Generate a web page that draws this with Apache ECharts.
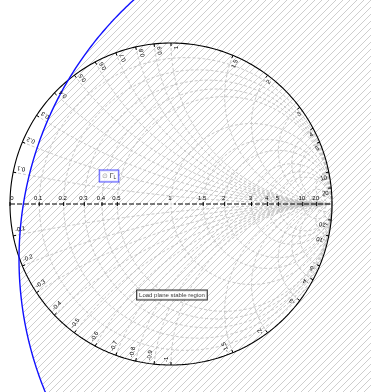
<!DOCTYPE html>
<html>
<head>
<meta charset="utf-8">
<script src="https://cdn.jsdelivr.net/npm/echarts@6/dist/echarts.min.js"></script>
<style>
  html, body { margin: 0; padding: 0; background: #ffffff; }
  #chart { width: 371px; height: 392px; }
</style>
</head>
<body>
<div id="chart"></div>
<script>
// Smith chart grid values (normalized impedance)
const resistanceGrid = [0.1, 0.2, 0.3, 0.4, 0.5, 1, 1.5, 2, 3, 4, 5, 10, 20];
const reactanceGrid = [0.1, 0.2, 0.3, 0.4, 0.5, 0.6, 0.7, 0.8, 0.9, 1, 1.5, 2, 3, 4, 5, 10, 20];
const realAxisTicks = [0, 0.1, 0.2, 0.3, 0.4, 0.5, 1, 1.5, 2, 3, 4, 5, 10, 20];

// Load stability circle in the reflection-coefficient plane
const stabilityCenter = [1.23, -0.342];
const stabilityRadius = 2.174;

// Load reflection coefficient point
const gammaL = [-0.385, 0.174];

// Annotation for the stable region
const stableNotePos = [0.006, -0.565];
const stableNoteText = 'Load plane stable region';

// Page layout: unit circle centre and radius in pixels
const W = 371, H = 392, CX = 171, CY = 204, RPX = 161;

function gammaOf(r, x) {
  const d = (r + 1) * (r + 1) + x * x;
  return [(r * r + x * x - 1) / d, (2 * x) / d];
}

function resistanceCircle(r) {
  const c = r / (1 + r), rad = 1 / (1 + r), pts = [];
  for (let i = 0; i <= 240; i++) {
    const a = (i / 240) * 2 * Math.PI;
    pts.push([c + rad * Math.cos(a), rad * Math.sin(a)]);
  }
  return pts;
}

function reactanceArc(x) {
  const pts = [];
  for (let i = 0; i <= 200; i++) {
    const s = (i / 200) * 0.998;
    const r = s / (1 - s);
    pts.push(gammaOf(r, x));
  }
  pts.push([1, 0]);
  return pts;
}

function circlePoints(c, rad, n) {
  const pts = [];
  for (let i = 0; i <= n; i++) {
    const a = (i / n) * 2 * Math.PI;
    pts.push([c[0] + rad * Math.cos(a), c[1] + rad * Math.sin(a)]);
  }
  return pts;
}

// Diagonal hatch tile
const TILE = 7;
const tile = document.createElement('canvas');
tile.width = TILE; tile.height = TILE;
(function () {
  const g = tile.getContext('2d');
  g.strokeStyle = '#c2c2c2';
  g.lineWidth = 0.8;
  g.beginPath();
  g.moveTo(-1, TILE + 1); g.lineTo(TILE + 1, -1);
  g.moveTo(-1, 1); g.lineTo(1, -1);
  g.moveTo(TILE - 1, TILE + 1); g.lineTo(TILE + 1, TILE - 1);
  g.stroke();
})();

const gridStyle = { color: '#bababa', width: 0.8, type: [3, 2] };
const series = [];

// Hatched region inside the stability circle
series.push({
  type: 'custom',
  silent: true,
  data: [0],
  renderItem: function (params, api) {
    const pts = circlePoints(stabilityCenter, stabilityRadius, 360).map(p => api.coord(p));
    return { type: 'polygon', shape: { points: pts }, style: { fill: { image: tile, repeat: 'repeat' }, stroke: null } };
  },
  z: 1
});

resistanceGrid.forEach(r => series.push({
  type: 'line', data: resistanceCircle(r), showSymbol: false, silent: true,
  lineStyle: gridStyle, z: 2
}));
reactanceGrid.forEach(x => {
  [x, -x].forEach(v => series.push({
    type: 'line', data: reactanceArc(v), showSymbol: false, silent: true,
    lineStyle: gridStyle, z: 2
  }));
});

// Outer boundary |Γ| = 1
series.push({
  type: 'line', data: circlePoints([0, 0], 1, 360), showSymbol: false, silent: true,
  lineStyle: { color: '#000000', width: 1.1 }, z: 4
});

// Real axis
series.push({
  type: 'line', data: [[-1, 0], [1, 0]], showSymbol: false, silent: true,
  lineStyle: { color: '#000000', width: 1, type: [5, 2] }, z: 4
});

// Real axis ticks and labels
series.push({
  type: 'custom', silent: true, z: 6,
  data: realAxisTicks.map(r => [r]),
  renderItem: function (params, api) {
    const r = api.value(0);
    const g = (r - 1) / (r + 1);
    const p = api.coord([g, 0]);
    return {
      type: 'group',
      children: [
        { type: 'line', shape: { x1: p[0], y1: p[1] - 2, x2: p[0], y2: p[1] + 2 }, style: { stroke: '#000', lineWidth: 1 } },
        { type: 'text', x: p[0] + (r === 0 ? 2 : -1), y: p[1] - 3,
          style: { text: String(r), align: 'center', verticalAlign: 'bottom', font: '6px "Liberation Sans", Arial, sans-serif', fill: '#000' } }
      ]
    };
  }
});

// Reactance ticks and labels around the boundary
const boundaryValues = reactanceGrid.concat(reactanceGrid.map(v => -v));
series.push({
  type: 'custom', silent: true, z: 6,
  data: boundaryValues.map(v => [v]),
  renderItem: function (params, api) {
    const x = api.value(0);
    const phi = Math.atan2(2 * x, x * x - 1);
    const p = api.coord([Math.cos(phi), Math.sin(phi)]);
    const ux = Math.cos(phi), uy = -Math.sin(phi);      // outward, screen
    const tx = Math.sin(phi), ty = Math.cos(phi);       // clockwise tangent, screen
    const ax = p[0] - 3 * ux + 5 * tx, ay = p[1] - 3 * uy + 5 * ty;
    const upper = phi > 0;
    return {
      type: 'group',
      children: [
        { type: 'line', shape: { x1: p[0], y1: p[1], x2: p[0] - 3 * ux, y2: p[1] - 3 * uy }, style: { stroke: '#000', lineWidth: 1 } },
        { type: 'text', x: ax, y: ay, rotation: upper ? phi : phi + Math.PI,
          style: { text: (x < 0 ? '-' : '') + String(Math.abs(x)), align: upper ? 'right' : 'left', verticalAlign: 'middle',
                   font: '6px "Liberation Sans", Arial, sans-serif', fill: '#000' } }
      ]
    };
  }
});

// Centre point (matched load)
series.push({
  type: 'scatter', data: [[0, 0]], symbol: 'emptyCircle', symbolSize: 4, silent: true,
  itemStyle: { color: '#ffffff', borderColor: '#000', borderWidth: 1 }, z: 7
});

// Stability circle
series.push({
  type: 'line', data: circlePoints(stabilityCenter, stabilityRadius, 720), showSymbol: false, silent: true,
  lineStyle: { color: '#1010ff', width: 1.4 }, z: 5
});

// Load reflection coefficient marker
series.push({
  type: 'scatter', data: [gammaL], symbol: 'circle', symbolSize: 1, silent: true, z: 8,
  itemStyle: { color: 'rgba(0,0,0,0)' },
  label: {
    show: true, position: 'inside',
    formatter: '{m|⊙} Γ{s|L}',
    backgroundColor: '#ffffff', borderColor: '#2a2aff', borderWidth: 1, padding: [2, 2, 1, 2],
    color: '#000', fontSize: 7, fontFamily: '"Liberation Sans", Arial, sans-serif',
    rich: {
      m: { color: '#888888', fontSize: 7 },
      s: { fontSize: 5, padding: [3, 0, 0, 0] }
    }
  }
});

// Stable region note
series.push({
  type: 'scatter', data: [stableNotePos], symbol: 'circle', symbolSize: 1, silent: true, z: 8,
  itemStyle: { color: 'rgba(0,0,0,0)' },
  label: {
    show: true, position: 'inside', formatter: stableNoteText,
    backgroundColor: '#ffffff', borderColor: '#000000', borderWidth: 1, padding: [2, 2, 1, 2],
    color: '#000', fontSize: 6, fontFamily: '"Liberation Sans", Arial, sans-serif'
  }
});

const chart = echarts.init(document.getElementById('chart'), null, { renderer: 'canvas' });
chart.setOption({
  animation: false,
  backgroundColor: '#ffffff',
  grid: { left: 0, right: 0, top: 0, bottom: 0 },
  xAxis: { type: 'value', min: -CX / RPX, max: (W - CX) / RPX, show: false, splitLine: { show: false } },
  yAxis: { type: 'value', min: -(H - CY) / RPX, max: CY / RPX, show: false, splitLine: { show: false } },
  series: series
});
</script>
</body>
</html>
